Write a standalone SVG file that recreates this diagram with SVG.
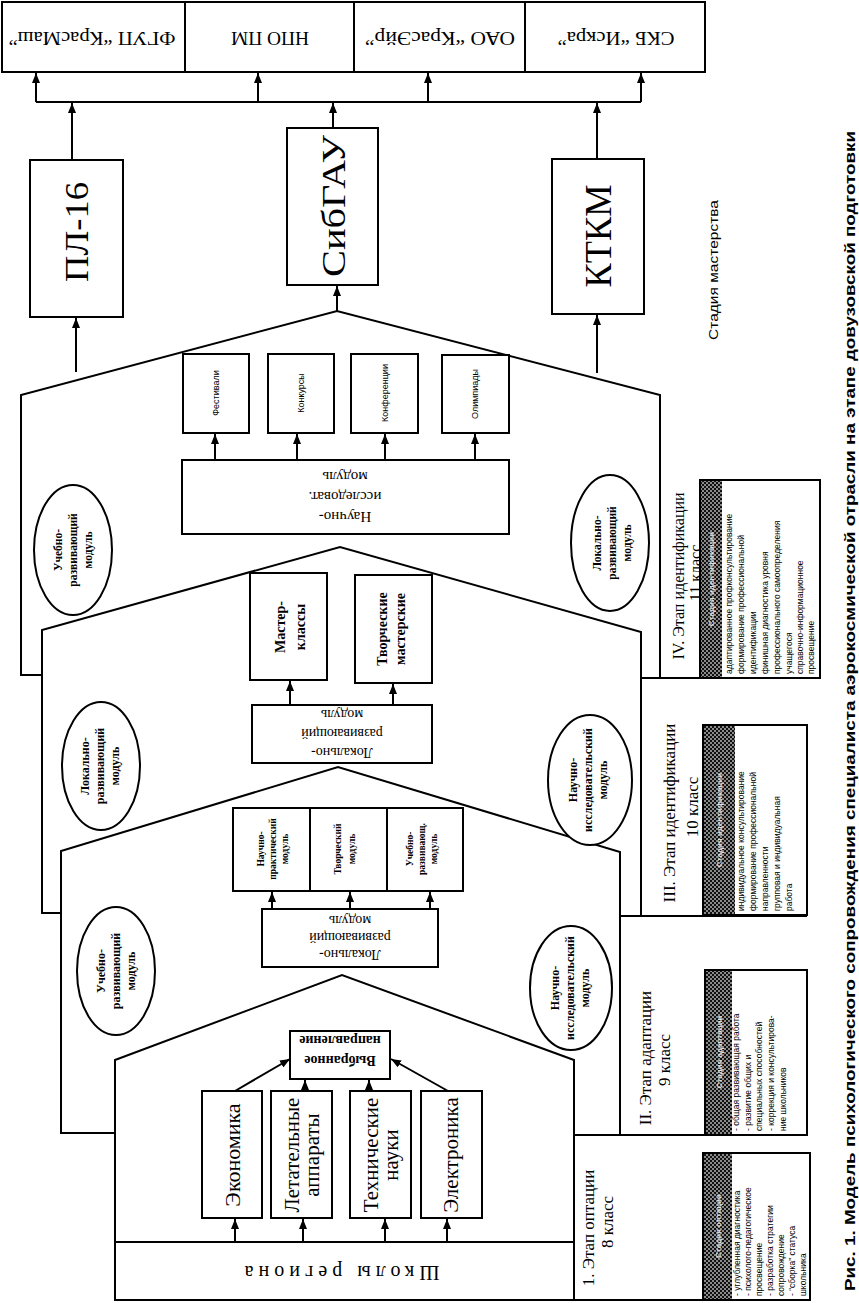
<svg xmlns="http://www.w3.org/2000/svg" width="859" height="1303" viewBox="0 0 859 1303">
<style>
.bx{fill:#fff;stroke:#000;stroke-width:2}
.ln{fill:none;stroke:#000;stroke-width:2}
.cn{fill:none;stroke:#000;stroke-width:2}
.el{fill:#fff;stroke:#000;stroke-width:2}
.s{font-family:"Liberation Serif","DejaVu Serif",serif;fill:#000;text-anchor:middle;dominant-baseline:central}
.sb{font-family:"Liberation Serif","DejaVu Serif",serif;font-weight:bold;fill:#000;text-anchor:middle;dominant-baseline:central}
.ss{font-family:"Liberation Sans",Arial,sans-serif;fill:#000;text-anchor:middle;dominant-baseline:central}
.lg{font-family:"Liberation Sans",Arial,sans-serif;font-size:8.5px;fill:#000;text-anchor:start;dominant-baseline:central}
.hd{font-family:"Liberation Sans",Arial,sans-serif;font-size:8px;font-weight:bold;fill:#ddd;text-anchor:middle;dominant-baseline:central}
</style>
<defs>
<marker id="ah" markerWidth="10" markerHeight="8" refX="10" refY="4" orient="auto" markerUnits="userSpaceOnUse">
<path d="M0,0 L10,4 L0,8 z" fill="#000"/>
</marker>
<pattern id="dith" width="4" height="4" patternUnits="userSpaceOnUse">
<rect width="4" height="4" fill="#111"/>
<rect width="2" height="2" fill="#8a8a8a"/>
<rect x="2" y="2" width="2" height="2" fill="#8a8a8a"/>
</pattern>
</defs>

<g id="stages">
<polyline class="ln" points="42,675 21,675 21,395 337,311 660,395 660,678"/>
<line class="ln" x1="641" y1="678" x2="820" y2="678"/>
<polyline class="ln" points="61,913 42,913 42,630 340,547 641,632 641,916"/>
<line class="ln" x1="620" y1="916" x2="807" y2="916"/>
<polyline class="ln" points="115,1133 61,1133 61,851 338,767 620,852 620,1135"/>
<line class="ln" x1="574" y1="1135" x2="807" y2="1135"/>
<polyline class="ln" points="115,1300 115,1060 342,975 574,1060 574,1300"/>
<line class="ln" x1="115" y1="1300" x2="808" y2="1300"/>
</g>

<g id="enterprises">
<g id="n-krasmash"><rect class="bx" x="2" y="2" width="183" height="70"/><text class="s" font-size="19" transform="translate(92,38) rotate(180)" textLength="167" lengthAdjust="spacingAndGlyphs">ФГУП “КрасМаш”</text></g>
<g id="n-npopm"><rect class="bx" x="185" y="2" width="169" height="70" stroke-width="3"/><text class="s" font-size="19" transform="translate(270,38) rotate(180)" textLength="78" lengthAdjust="spacingAndGlyphs">НПО ПМ</text></g>
<g id="n-krasair"><rect class="bx" x="354" y="2" width="171" height="70"/><text class="s" font-size="19" transform="translate(440,38) rotate(180)" textLength="150" lengthAdjust="spacingAndGlyphs">ОАО “КрасЭйр”</text></g>
<g id="n-iskra"><rect class="bx" x="525" y="2" width="180" height="70"/><text class="s" font-size="19" transform="translate(616,38) rotate(180)" textLength="117" lengthAdjust="spacingAndGlyphs">СКБ “Искра”</text></g>
</g>

<g id="n-pl16"><rect class="bx" x="30" y="160" width="93" height="157"/><text class="s" font-size="34" transform="translate(76,232) rotate(-90)" textLength="100" lengthAdjust="spacingAndGlyphs">ПЛ-16</text></g>
<g id="n-sibgau"><rect class="bx" x="287" y="128" width="91" height="157"/><text class="s" font-size="34" transform="translate(333,206) rotate(-90)" textLength="142" lengthAdjust="spacingAndGlyphs">СибГАУ</text></g>
<g id="n-ktkm"><rect class="bx" x="552" y="159" width="92" height="155"/><text class="s" font-size="38" transform="translate(598,236) rotate(-90)" textLength="103" lengthAdjust="spacingAndGlyphs">КТКМ</text></g>

<g id="stage4">
<g id="n-fest"><rect class="bx" x="183" y="354" width="66" height="79"/><text class="ss" font-size="9" transform="translate(216,393) rotate(-90)">Фестивали</text></g>
<g id="n-konk"><rect class="bx" x="268" y="354" width="66" height="79"/><text class="ss" font-size="9" transform="translate(301,393) rotate(-90)">Конкурсы</text></g>
<g id="n-konf"><rect class="bx" x="351" y="354" width="67" height="79"/><text class="ss" font-size="9" transform="translate(385,393) rotate(-90)">Конференции</text></g>
<g id="n-olimp"><rect class="bx" x="442" y="355" width="67" height="78"/><text class="ss" font-size="9" transform="translate(475,394) rotate(-90)">Олимпиады</text></g>
<g id="n-nim"><rect class="bx" x="182" y="460" width="327" height="74"/><text class="s" font-size="15" transform="translate(345,497) rotate(180)"><tspan x="0" y="-20">Научно-</tspan><tspan x="0" y="0">исследоват.</tspan><tspan x="0" y="20">модуль</tspan></text></g>
<g id="e-urm4"><ellipse class="el" cx="73" cy="550" rx="39" ry="65"/><text class="sb" font-size="11.5" transform="translate(73,550) rotate(-90)"><tspan x="0" y="-15">Учебно-</tspan><tspan x="0" y="0">развивающий</tspan><tspan x="0" y="15">модуль</tspan></text></g>
<g id="e-lrm4"><ellipse class="el" cx="610" cy="543" rx="39" ry="68"/><text class="sb" font-size="11.5" transform="translate(612,543) rotate(-90)"><tspan x="0" y="-15">Локально-</tspan><tspan x="0" y="0">развивающий</tspan><tspan x="0" y="15">модуль</tspan></text></g>
</g>

<g id="stage3">
<g id="n-master"><rect class="bx" x="250" y="573" width="77" height="107"/><text class="sb" font-size="14" transform="translate(290,627) rotate(-90)"><tspan x="0" y="-10">Мастер-</tspan><tspan x="0" y="10">классы</tspan></text></g>
<g id="n-tvm"><rect class="bx" x="355" y="575" width="77" height="108"/><text class="sb" font-size="14" transform="translate(391,629) rotate(-90)"><tspan x="0" y="-9">Творческие</tspan><tspan x="0" y="9">мастерские</tspan></text></g>
<g id="n-lrm3"><rect class="bx" x="252" y="705" width="180" height="58"/><text class="s" font-size="14" transform="translate(342,734) rotate(180)"><tspan x="0" y="-19">Локально-</tspan><tspan x="0" y="0">развивающий</tspan><tspan x="0" y="19">модуль</tspan></text></g>
<g id="e-lrm3"><ellipse class="el" cx="101" cy="766" rx="39" ry="64"/><text class="sb" font-size="12" transform="translate(100,766) rotate(-90)"><tspan x="0" y="-15">Локально-</tspan><tspan x="0" y="0">развивающий</tspan><tspan x="0" y="15">модуль</tspan></text></g>
<g id="e-nim3"><ellipse class="el" cx="590" cy="780" rx="42" ry="65"/><text class="sb" font-size="12" transform="translate(588,780) rotate(-90)"><tspan x="0" y="-15">Научно-</tspan><tspan x="0" y="0">исследовательский</tspan><tspan x="0" y="15">модуль</tspan></text></g>
</g>

<g id="stage2">
<g id="n-npm"><rect class="bx" x="233" y="808" width="77" height="83"/><text class="sb" font-size="9.5" transform="translate(273,849) rotate(-90)"><tspan x="0" y="-12">Научно-</tspan><tspan x="0" y="0">практический</tspan><tspan x="0" y="12">модуль</tspan></text></g>
<g id="n-tm"><rect class="bx" x="310" y="808" width="77" height="83"/><text class="sb" font-size="9.5" transform="translate(345,849) rotate(-90)"><tspan x="0" y="-7">Творческий</tspan><tspan x="0" y="7">модуль</tspan></text></g>
<g id="n-urm"><rect class="bx" x="387" y="808" width="76" height="83"/><text class="sb" font-size="9.5" transform="translate(422,849) rotate(-90)"><tspan x="0" y="-12">Учебно-</tspan><tspan x="0" y="0">развивающ.</tspan><tspan x="0" y="12">модуль</tspan></text></g>
<g id="n-lrm2"><rect class="bx" x="262" y="909" width="176" height="58"/><text class="s" font-size="14" transform="translate(350,938) rotate(180)"><tspan x="0" y="-17">Локально-</tspan><tspan x="0" y="0">развивающий</tspan><tspan x="0" y="17">модуль</tspan></text></g>
<g id="e-urm2"><ellipse class="el" cx="116" cy="971" rx="39" ry="64"/><text class="sb" font-size="12" transform="translate(116,971) rotate(-90)"><tspan x="0" y="-15">Учебно-</tspan><tspan x="0" y="0">развивающий</tspan><tspan x="0" y="15">модуль</tspan></text></g>
<g id="e-nim2"><ellipse class="el" cx="571" cy="988" rx="41" ry="62"/><text class="sb" font-size="12" transform="translate(570,988) rotate(-90)"><tspan x="0" y="-15">Научно-</tspan><tspan x="0" y="0">исследовательский</tspan><tspan x="0" y="15">модуль</tspan></text></g>
</g>

<g id="stage1">
<g id="n-vyb"><rect class="bx" x="290" y="1031" width="100" height="48"/><text class="sb" font-size="14" transform="translate(340,1051) rotate(180)"><tspan x="0" y="-10">Выбранное</tspan><tspan x="0" y="10">направление</tspan></text></g>
<g id="n-econ"><rect class="bx" x="202" y="1091" width="60" height="127"/><text class="s" font-size="22" transform="translate(232,1155) rotate(-90)">Экономика</text></g>
<g id="n-la"><rect class="bx" x="271" y="1091" width="61" height="127"/><text class="s" font-size="21" transform="translate(302,1155) rotate(-90)"><tspan x="0" y="-10">Летательные</tspan><tspan x="0" y="10">аппараты</tspan></text></g>
<g id="n-tn"><rect class="bx" x="350" y="1091" width="61" height="127"/><text class="s" font-size="21" transform="translate(381,1155) rotate(-90)"><tspan x="0" y="-10">Технические</tspan><tspan x="0" y="10">науки</tspan></text></g>
<g id="n-el"><rect class="bx" x="421" y="1091" width="61" height="127"/><text class="s" font-size="21" transform="translate(451,1155) rotate(-90)">Электроника</text></g>
<g id="n-schools"><rect class="bx" x="115" y="1242" width="459" height="58"/><text class="s" font-size="20" transform="translate(342,1273) rotate(180)" textLength="195" lengthAdjust="spacing">Школы региона</text></g>
</g>

<g id="labels">
<text class="s" font-size="16" transform="translate(678,576) rotate(-90)">IV. Этап идентификации</text>
<text class="s" font-size="16" transform="translate(695,573) rotate(-90)">11 класс</text>
<text class="s" font-size="17" transform="translate(669,813) rotate(-90)">III. Этап идентификации</text>
<text class="s" font-size="17" transform="translate(692,807) rotate(-90)">10 класс</text>
<text class="s" font-size="17" transform="translate(645,1058) rotate(-90)">II. Этап адаптации</text>
<text class="s" font-size="17" transform="translate(664,1060) rotate(-90)">9 класс</text>
<text class="s" font-size="17" transform="translate(588,1228) rotate(-90)">1. Этап оптации</text>
<text class="s" font-size="17" transform="translate(607,1222) rotate(-90)">8 класс</text>
<text class="ss" font-size="13" transform="translate(713,270) rotate(-90)" textLength="140" lengthAdjust="spacingAndGlyphs">Стадия мастерства</text>
<text class="ss" font-size="15" font-weight="bold" transform="translate(849,711) rotate(-90)" textLength="1160" lengthAdjust="spacingAndGlyphs">Рис. 1. Модель психологического сопровождения специалиста аэрокосмической отрасли на этапе довузовской подготовки</text>
</g>

<g id="legend4">
<rect class="bx" x="700" y="480" width="120" height="198"/>
<rect x="701" y="481" width="21" height="196" fill="url(#dith)"/>
<text class="hd" transform="translate(711,579) rotate(-90)">Стадия идентификации</text>
<text class="lg" transform="translate(729,674) rotate(-90)">адаптированное профконсультирование</text>
<text class="lg" transform="translate(741,674) rotate(-90)">формирование профессиональной</text>
<text class="lg" transform="translate(753,674) rotate(-90)">идентификации</text>
<text class="lg" transform="translate(765,674) rotate(-90)">финишная диагностика уровня</text>
<text class="lg" transform="translate(777,674) rotate(-90)">профессионального самоопределения</text>
<text class="lg" transform="translate(789,674) rotate(-90)">учащегося</text>
<text class="lg" transform="translate(800,674) rotate(-90)">справочно-информационное</text>
<text class="lg" transform="translate(811,674) rotate(-90)">просвещение</text>
</g>

<g id="legend3">
<rect class="bx" x="703" y="725" width="104" height="190"/>
<rect x="704" y="726" width="31" height="188" fill="url(#dith)"/>
<text class="hd" transform="translate(719,820) rotate(-90)">Стадия идентификации</text>
<text class="lg" transform="translate(741,911) rotate(-90)">индивидуальное консультирование</text>
<text class="lg" transform="translate(753,911) rotate(-90)">формирование профессиональной</text>
<text class="lg" transform="translate(765,911) rotate(-90)">направленности</text>
<text class="lg" transform="translate(777,911) rotate(-90)">групповая и индивидуальная</text>
<text class="lg" transform="translate(789,911) rotate(-90)">работа</text>
</g>

<g id="legend2">
<rect class="bx" x="705" y="970" width="102" height="165"/>
<rect x="706" y="971" width="26" height="163" fill="url(#dith)"/>
<text class="hd" transform="translate(719,1052) rotate(-90)">Стадия адаптации</text>
<text class="lg" transform="translate(736,1131) rotate(-90)">- общая развивающая работа</text>
<text class="lg" transform="translate(748,1131) rotate(-90)">- развитие общих и</text>
<text class="lg" transform="translate(759,1131) rotate(-90)">специальных способностей</text>
<text class="lg" transform="translate(771,1131) rotate(-90)">- коррекция и консультирова-</text>
<text class="lg" transform="translate(783,1131) rotate(-90)">ние школьников</text>
</g>

<g id="legend1">
<rect class="bx" x="703" y="1153" width="107" height="147"/>
<rect x="704" y="1154" width="28" height="145" fill="url(#dith)"/>
<text class="hd" transform="translate(718,1226) rotate(-90)">Стадия оптации</text>
<text class="lg" transform="translate(737,1296) rotate(-90)">- углубленная диагностика</text>
<text class="lg" transform="translate(748,1296) rotate(-90)">- психолого-педагогическое</text>
<text class="lg" transform="translate(759,1296) rotate(-90)">просвещение</text>
<text class="lg" transform="translate(770,1296) rotate(-90)">- разработка стратегии</text>
<text class="lg" transform="translate(781,1296) rotate(-90)">сопровождение</text>
<text class="lg" transform="translate(792,1296) rotate(-90)">- “сборка” статуса</text>
<text class="lg" transform="translate(803,1296) rotate(-90)">школьника</text>
</g>

<g id="connectors">
<polyline class="cn" points="36,102 641,102"/>
<line class="cn" x1="36" y1="102" x2="36" y2="73" marker-end="url(#ah)"/>
<line class="cn" x1="258" y1="102" x2="258" y2="73" marker-end="url(#ah)"/>
<line class="cn" x1="428" y1="102" x2="428" y2="73" marker-end="url(#ah)"/>
<line class="cn" x1="641" y1="102" x2="641" y2="73" marker-end="url(#ah)"/>
<line class="cn" x1="72" y1="160" x2="72" y2="103" marker-end="url(#ah)"/>
<line class="cn" x1="333" y1="128" x2="333" y2="103" marker-end="url(#ah)"/>
<line class="cn" x1="597" y1="159" x2="597" y2="103" marker-end="url(#ah)"/>
<line class="cn" x1="76" y1="372" x2="76" y2="318" marker-end="url(#ah)"/>
<line class="cn" x1="337" y1="311" x2="337" y2="286" marker-end="url(#ah)"/>
<line class="cn" x1="597" y1="373" x2="597" y2="315" marker-end="url(#ah)"/>
<line class="cn" x1="215" y1="460" x2="215" y2="434" marker-end="url(#ah)"/>
<line class="cn" x1="297" y1="460" x2="297" y2="434" marker-end="url(#ah)"/>
<line class="cn" x1="385" y1="460" x2="385" y2="434" marker-end="url(#ah)"/>
<line class="cn" x1="475" y1="460" x2="475" y2="434" marker-end="url(#ah)"/>
<line class="cn" x1="290" y1="705" x2="290" y2="681" marker-end="url(#ah)"/>
<line class="cn" x1="393" y1="705" x2="393" y2="684" marker-end="url(#ah)"/>
<line class="cn" x1="272" y1="909" x2="272" y2="892" marker-end="url(#ah)"/>
<line class="cn" x1="350" y1="909" x2="350" y2="892" marker-end="url(#ah)"/>
<line class="cn" x1="430" y1="909" x2="430" y2="892" marker-end="url(#ah)"/>
<line class="cn" x1="235" y1="1091" x2="290" y2="1059" marker-end="url(#ah)"/>
<line class="cn" x1="305" y1="1091" x2="305" y2="1080" marker-end="url(#ah)"/>
<line class="cn" x1="369" y1="1091" x2="369" y2="1080" marker-end="url(#ah)"/>
<line class="cn" x1="448" y1="1091" x2="391" y2="1059" marker-end="url(#ah)"/>
<line class="cn" x1="235" y1="1242" x2="235" y2="1219" marker-end="url(#ah)"/>
<line class="cn" x1="303" y1="1242" x2="303" y2="1219" marker-end="url(#ah)"/>
<line class="cn" x1="385" y1="1242" x2="385" y2="1219" marker-end="url(#ah)"/>
<line class="cn" x1="447" y1="1242" x2="447" y2="1219" marker-end="url(#ah)"/>
</g>
</svg>
